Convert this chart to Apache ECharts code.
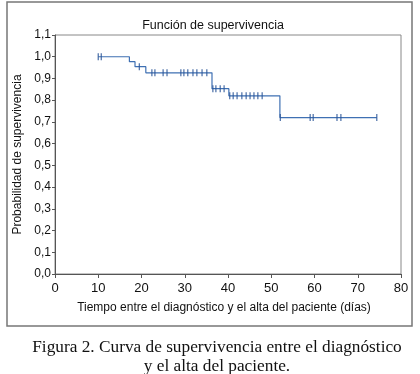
<!DOCTYPE html>
<html>
<head>
<meta charset="utf-8">
<script src="https://cdn.jsdelivr.net/npm/echarts@6/dist/echarts.min.js"></script>
<style>
  html, body { margin: 0; padding: 0; background: #fff; }
  #chart { width: 420px; height: 374px; }
</style>
</head>
<body>
<div id="chart"></div>
<script>
// curva de Kaplan-Meier: tiempos de los escalones y probabilidad
const stepTimes = [10, 17.2, 18.5, 21, 36.3, 40.2, 52, 74.4];
const stepSurv = [1.0, 0.977, 0.954, 0.926, 0.853, 0.82, 0.72, 0.72];

// observaciones censuradas (+)
const censorTimes = [10, 10.7, 19.5, 22.4, 23.1, 25, 25.9, 29.1, 29.8, 30.7, 31.9, 32.8, 34.0, 35.1,
  36.5, 37.2, 38.2, 39.1, 40.4, 41.2, 42.1, 43.2, 44.2, 45.1, 46.0, 46.9, 47.9,
  52.1, 59.0, 59.7, 65.2, 66.1, 74.4];
const censorSurv = [1.0, 1.0, 0.954, 0.926, 0.926, 0.926, 0.926, 0.926, 0.926, 0.926, 0.926, 0.926, 0.926, 0.926,
  0.853, 0.853, 0.853, 0.853, 0.82, 0.82, 0.82, 0.82, 0.82, 0.82, 0.82, 0.82, 0.82,
  0.72, 0.72, 0.72, 0.72, 0.72, 0.72];

const chart = echarts.init(document.getElementById('chart'));
const font = 'Liberation Sans, Arial, sans-serif';

const option = {
  backgroundColor: '#fff',
  animation: false,
  grid: {
    left: 55, right: 19, top: 35, bottom: 100,
    show: true, borderColor: '#888', borderWidth: 1
  },
  xAxis: {
    type: 'value',
    min: 0, max: 80, interval: 10,
    name: 'Tiempo entre el diagnóstico y el alta del paciente (días)',
    nameLocation: 'middle',
    nameGap: 28,
    nameTextStyle: { fontFamily: font, fontSize: 12, color: '#111', padding: [0, 8, 0, 0] },
    axisLine: { lineStyle: { color: '#555' } },
    axisTick: { show: true, length: 4, lineStyle: { color: '#555' } },
    axisLabel: { fontFamily: font, fontSize: 13, color: '#111', margin: 8 },
    splitLine: { show: false }
  },
  yAxis: {
    type: 'value',
    min: 0, max: 1.1, interval: 0.1,
    name: 'Probabilidad de supervivencia',
    nameLocation: 'middle',
    nameGap: 25,
    nameTextStyle: { fontFamily: font, fontSize: 12, color: '#111' },
    axisLine: { show: true, lineStyle: { color: '#555' } },
    axisTick: { show: true, length: 3, lineStyle: { color: '#555' } },
    axisLabel: {
      fontFamily: font, fontSize: 12, color: '#111', margin: 4,
      formatter: v => v.toFixed(1).replace('.', ',')
    },
    splitLine: { show: false }
  },
  series: [
    {
      type: 'line',
      step: 'end',
      data: stepTimes.map((t, i) => [t, stepSurv[i]]),
      symbol: 'none',
      lineStyle: { color: '#3f70b3', width: 1.2 }
    },
    {
      type: 'scatter',
      data: censorTimes.map((t, i) => [t, censorSurv[i]]),
      symbol: 'rect',
      symbolSize: [1.3, 7],
      itemStyle: { color: '#2b5597' },
      z: 3
    }
  ],
  graphic: [
    {
      type: 'rect',
      shape: { x: 7, y: 2, width: 405, height: 324 },
      style: { fill: 'none', stroke: '#777', lineWidth: 1.5 },
      silent: true
    },
    {
      type: 'text',
      x: 213,
      y: 19,
      style: {
        text: 'Función de supervivencia',
        font: '12.5px "Liberation Sans", Arial, sans-serif',
        fill: '#111',
        align: 'center'
      }
    },
    {
      type: 'text',
      x: 217,
      y: 338,
      style: {
        text: 'Figura 2. Curva de supervivencia entre el diagnóstico\ny el alta del paciente.',
        font: '17.3px "Liberation Serif", "Times New Roman", serif',
        fill: '#111',
        align: 'center',
        lineHeight: 19
      }
    }
  ]
};

chart.setOption(option);
</script>
</body>
</html>
